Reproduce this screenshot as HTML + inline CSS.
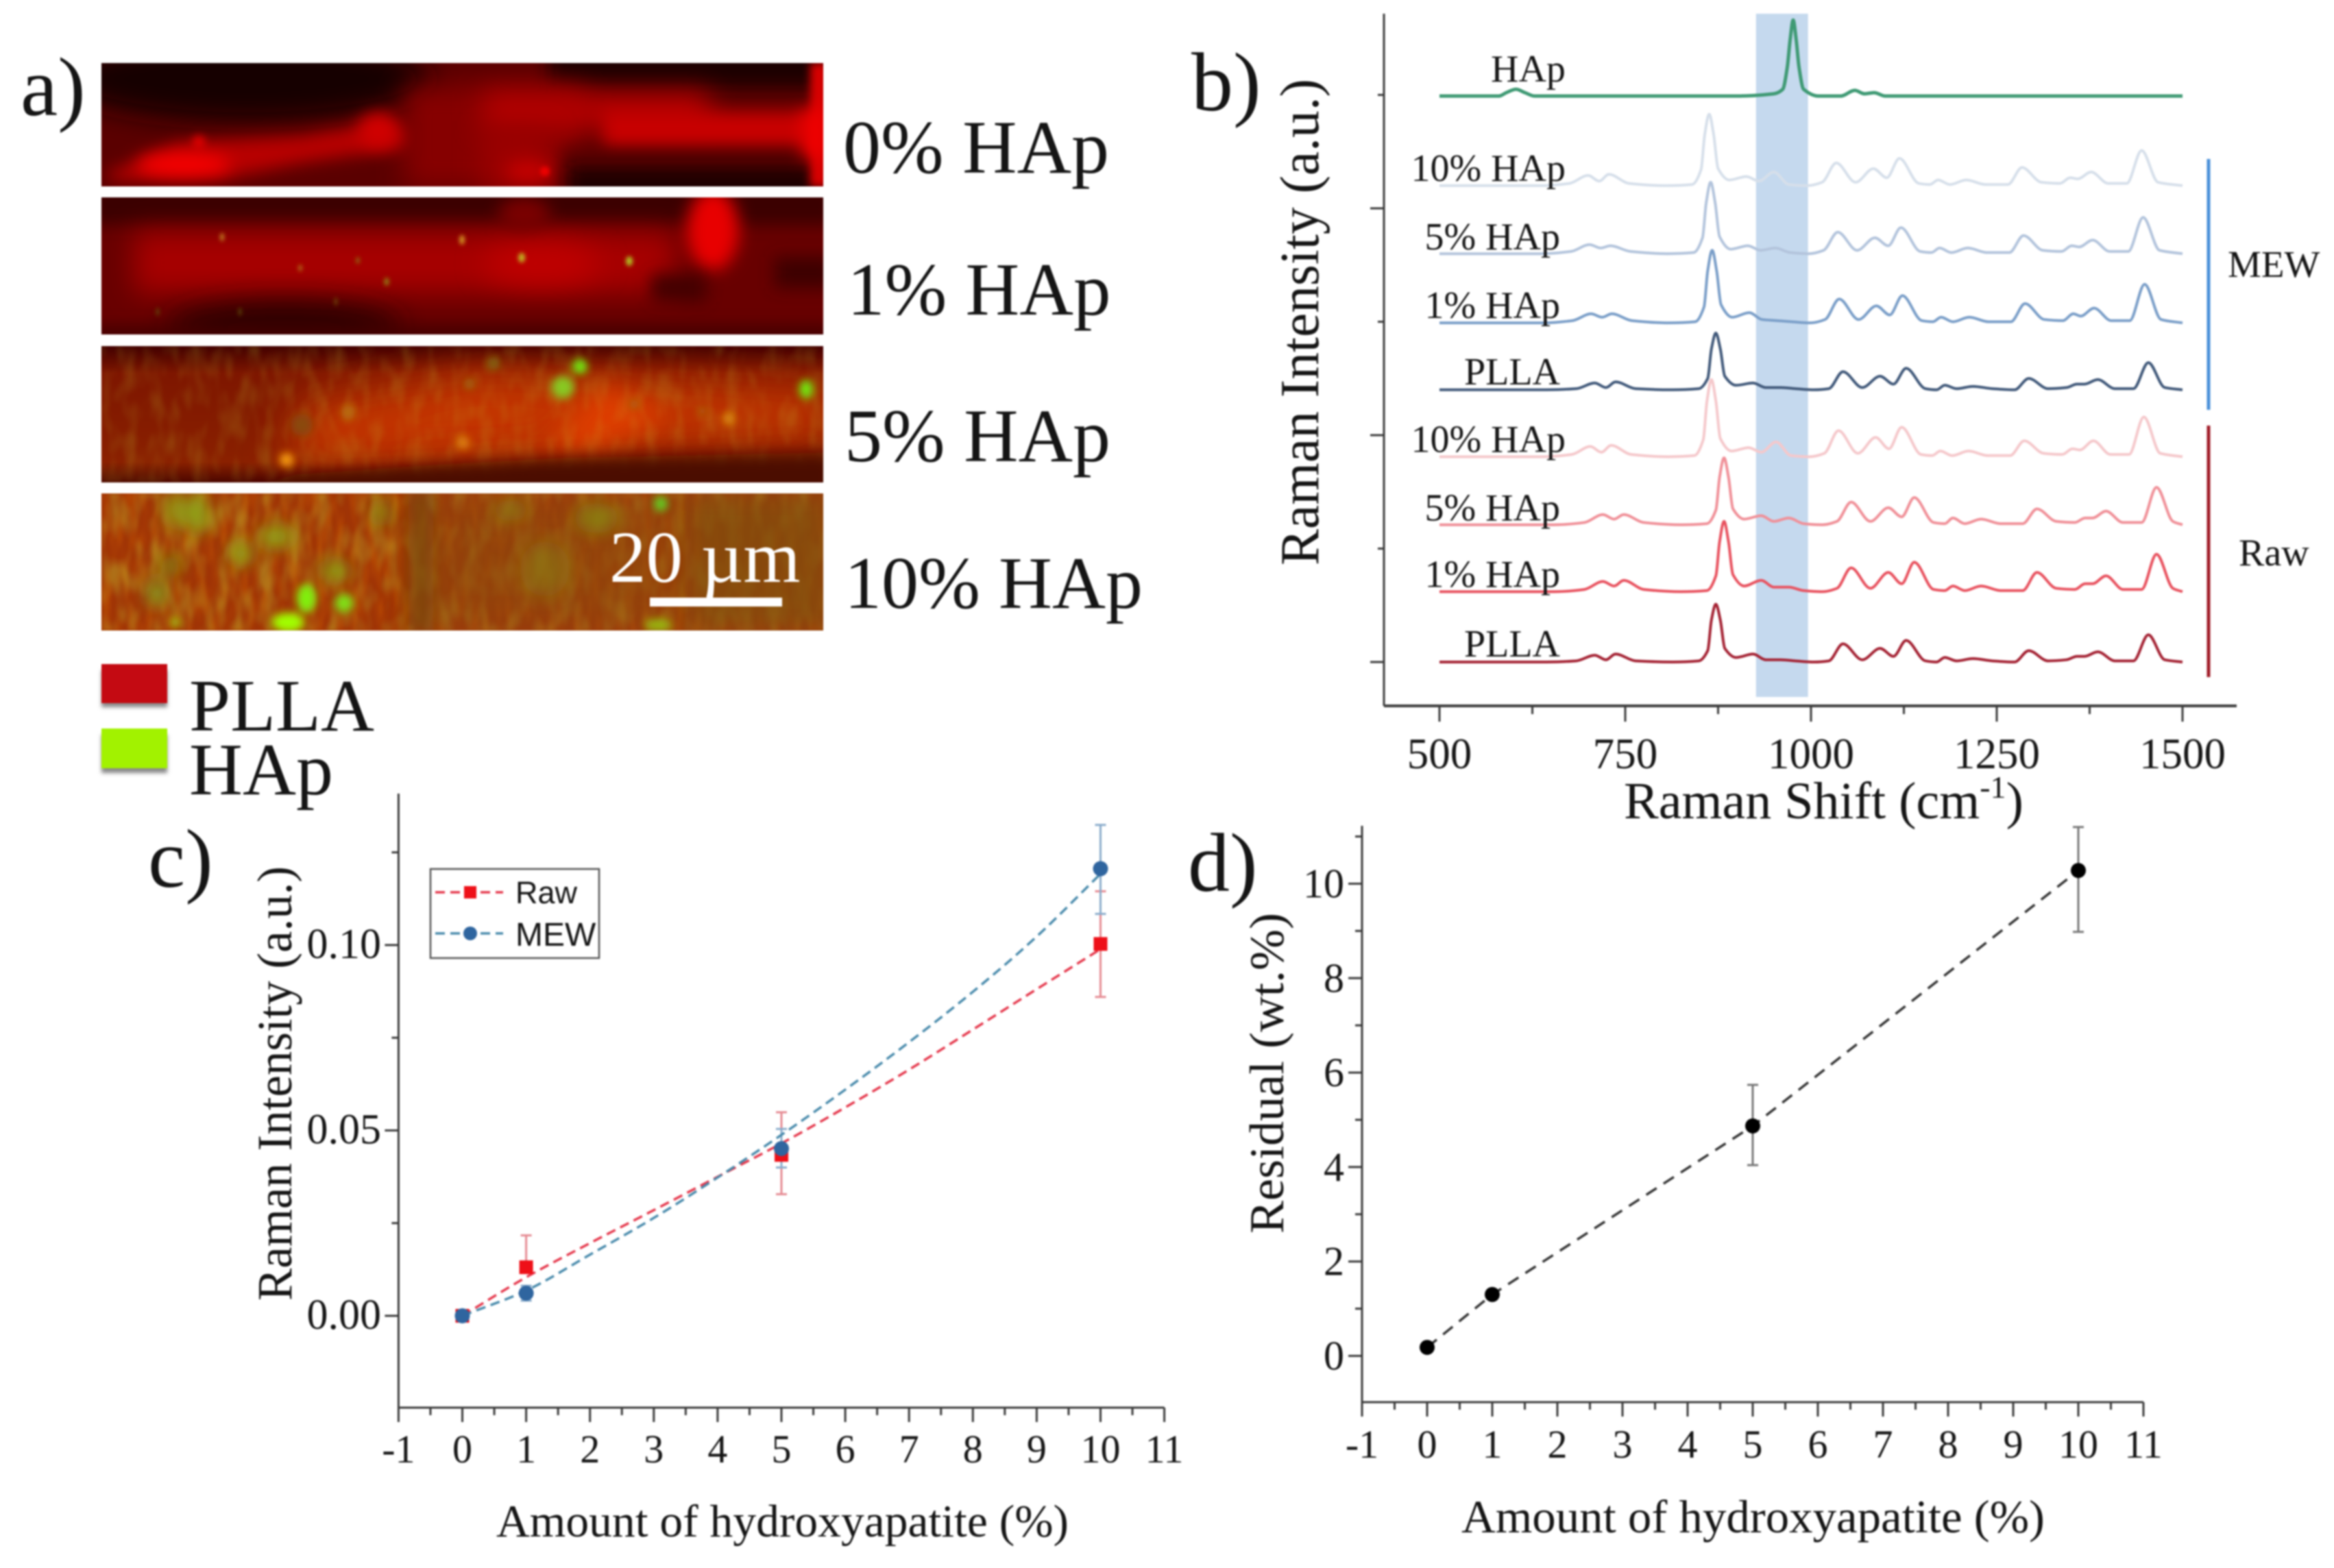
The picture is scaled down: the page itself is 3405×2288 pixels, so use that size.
<!DOCTYPE html>
<html lang="en">
<head>
<meta charset="utf-8">
<title>PLLA and HAp composite figure</title>
<style>
html,body{margin:0;padding:0;background:#fff;width:3405px;height:2288px;overflow:hidden}
#figure{display:block;filter:blur(1.2px)}
text{font-family:"Liberation Serif",serif;fill:#151515}
.sans{font-family:"Liberation Sans",sans-serif}
</style>
</head>
<body>
<svg id="figure" xmlns="http://www.w3.org/2000/svg" width="3405" height="2288" viewBox="0 0 3405 2288">
<defs>
<filter id="b3" filterUnits="userSpaceOnUse" x="100" y="50" width="1150" height="900"><feGaussianBlur stdDeviation="3"/></filter>
<filter id="b6" filterUnits="userSpaceOnUse" x="100" y="50" width="1150" height="900"><feGaussianBlur stdDeviation="6"/></filter>
<filter id="b12" filterUnits="userSpaceOnUse" x="100" y="50" width="1150" height="900"><feGaussianBlur stdDeviation="12"/></filter>
<filter id="b20" filterUnits="userSpaceOnUse" x="100" y="50" width="1150" height="900"><feGaussianBlur stdDeviation="20"/></filter>
<filter id="b32" filterUnits="userSpaceOnUse" x="100" y="50" width="1150" height="900"><feGaussianBlur stdDeviation="32"/></filter>
<filter id="shadow" filterUnits="userSpaceOnUse" x="100" y="950" width="200" height="220"><feGaussianBlur stdDeviation="3"/></filter>
<filter id="noiseG" x="0" y="0" width="100%" height="100%"><feTurbulence type="fractalNoise" baseFrequency="0.05 0.022" numOctaves="2" seed="4"/><feColorMatrix values="0 0 0 0 .55  0 0 0 0 .58  0 0 0 0 .03  2.6 0 0 0 -1.05"/><feGaussianBlur stdDeviation="2.5"/></filter>
<filter id="noiseR" x="0" y="0" width="100%" height="100%"><feTurbulence type="fractalNoise" baseFrequency="0.08 0.02" numOctaves="2" seed="9"/><feColorMatrix values="0 0 0 0 .85  0 0 0 0 .2  0 0 0 0 0  2.4 0 0 0 -1"/><feGaussianBlur stdDeviation="2"/></filter>
<clipPath id="c0"><rect x="148" y="92" width="1053" height="180"/></clipPath>
<clipPath id="c1"><rect x="148" y="288" width="1053" height="200"/></clipPath>
<clipPath id="c2"><rect x="148" y="505" width="1053" height="199"/></clipPath>
<clipPath id="c3"><rect x="148" y="720" width="1053" height="200"/></clipPath>
<linearGradient id="g2" x1="0" y1="0" x2="0" y2="1"><stop offset="0" stop-color="#420000"/><stop offset=".2" stop-color="#7e1600"/><stop offset=".85" stop-color="#8a2000"/><stop offset="1" stop-color="#4c0600"/></linearGradient>
</defs>

<!-- Panel a -->
<g>
<text x="30" y="168" font-size="122">a)</text>

<g clip-path="url(#c0)">
<rect x="148" y="92" width="1053" height="180" fill="#5a0000"/>
<ellipse cx="360" cy="115" rx="270" ry="62" fill="#120000" filter="url(#b20)"/>
<rect x="800" y="60" width="400" height="68" fill="#1a0000" filter="url(#b12)"/>
<rect x="590" y="125" width="260" height="150" fill="#860000" filter="url(#b20)"/>
<polygon points="150,256 260,208 440,198 560,178 590,192 590,216 440,238 320,262 170,264" fill="#b80000" filter="url(#b12)"/>
<ellipse cx="268" cy="240" rx="68" ry="17" fill="#f60000" filter="url(#b12)"/>
<circle cx="290" cy="207" r="9" fill="#e80000" filter="url(#b6)"/>
<ellipse cx="552" cy="190" rx="30" ry="26" fill="#d00000" filter="url(#b12)"/>
<rect x="705" y="134" width="330" height="56" fill="#b40000" filter="url(#b20)"/>
<rect x="880" y="162" width="310" height="62" fill="#c80000" filter="url(#b12)"/>
<rect x="705" y="190" width="97" height="90" fill="#9c0000" filter="url(#b20)"/>
<ellipse cx="772" cy="250" rx="34" ry="14" fill="#c80000" filter="url(#b12)"/>
<circle cx="795" cy="250" r="7" fill="#f00000" filter="url(#b3)"/>
<rect x="820" y="215" width="370" height="80" fill="#580000" filter="url(#b12)"/>
<rect x="830" y="245" width="360" height="50" fill="#1e0000" filter="url(#b12)"/>
<rect x="1182" y="92" width="26" height="180" fill="#d80000" filter="url(#b6)"/>
<rect x="1170" y="160" width="35" height="70" fill="#f00000" filter="url(#b12)"/>
</g>

<g clip-path="url(#c1)">
<rect x="148" y="288" width="1053" height="200" fill="#680000"/>
<rect x="130" y="268" width="1090" height="60" fill="#3a0000" filter="url(#b12)"/>
<rect x="195" y="338" width="790" height="90" fill="#a60000" filter="url(#b20)"/>
<ellipse cx="790" cy="385" rx="85" ry="30" fill="#c00000" filter="url(#b20)"/>
<ellipse cx="765" cy="312" rx="38" ry="24" fill="#7a0000" filter="url(#b12)"/>
<ellipse cx="1040" cy="335" rx="38" ry="60" fill="#e80000" filter="url(#b12)"/>
<rect x="1130" y="375" width="90" height="45" fill="#3c0000" filter="url(#b12)"/>
<rect x="950" y="400" width="80" height="40" fill="#420000" filter="url(#b12)"/>
<ellipse cx="415" cy="478" rx="170" ry="38" fill="#2c0000" filter="url(#b20)"/>
<rect x="130" y="476" width="1090" height="30" fill="#420000" filter="url(#b12)"/>
<g filter="url(#b3)">
<ellipse cx="324" cy="346" rx="3" ry="6" fill="#c08020"/><ellipse cx="674" cy="350" rx="4" ry="7" fill="#d09020"/><ellipse cx="761" cy="376" rx="5" ry="7" fill="#c0b020"/><ellipse cx="918" cy="381" rx="5" ry="7" fill="#b0c020"/><ellipse cx="438" cy="391" rx="3" ry="5" fill="#b06818"/><ellipse cx="564" cy="411" rx="4" ry="6" fill="#907010"/><ellipse cx="522" cy="380" rx="3" ry="5" fill="#906010"/><ellipse cx="490" cy="440" rx="2" ry="6" fill="#705010"/><ellipse cx="350" cy="455" rx="2" ry="6" fill="#605010"/><ellipse cx="230" cy="455" rx="2" ry="6" fill="#605010"/>
</g>
</g>

<g clip-path="url(#c2)">
<rect x="148" y="505" width="1053" height="199" fill="url(#g2)"/>
<polygon points="420,680 440,590 700,540 1220,570 1220,640 1000,650 700,670" fill="#c43400" filter="url(#b32)"/>
<polygon points="520,662 800,650 880,560 980,610 860,660" fill="#e44000" filter="url(#b20)" opacity=".85"/>
<rect x="148" y="505" width="1053" height="199" filter="url(#noiseG)" opacity=".18"/>
<polygon points="433,692 640,678 822,668 1220,660 1220,730 300,730" fill="#4c0800" filter="url(#b12)"/>
<g filter="url(#b6)">
<circle cx="846" cy="535" r="11" fill="#70f010"/><circle cx="821" cy="565" r="17" fill="#88c820"/><ellipse cx="1176" cy="568" rx="10" ry="14" fill="#70f010"/>
<circle cx="1063" cy="611" r="8" fill="#e09a10"/><circle cx="508" cy="602" r="10" fill="#b87010"/><circle cx="676" cy="646" r="9" fill="#e08810"/><circle cx="418" cy="671" r="10" fill="#ffa810"/>
<circle cx="685" cy="560" r="8" fill="#a07010"/><circle cx="720" cy="530" r="9" fill="#806810"/><circle cx="925" cy="590" r="7" fill="#a86810"/><circle cx="1025" cy="600" r="6" fill="#a86810"/><circle cx="440" cy="620" r="16" fill="#8a4a08"/>
</g>
</g>

<g clip-path="url(#c3)">
<rect x="148" y="720" width="1053" height="200" fill="#a03406"/>
<rect x="148" y="720" width="1053" height="200" filter="url(#noiseR)" opacity=".3"/>
<rect x="148" y="720" width="1053" height="200" filter="url(#noiseG)" opacity=".4"/>
<rect x="620" y="715" width="380" height="210" fill="#8c4a0a" filter="url(#b32)" opacity=".65"/>
<rect x="1000" y="715" width="220" height="210" fill="#824e0a" filter="url(#b20)" opacity=".8"/>
<rect x="596" y="715" width="36" height="210" fill="#7a4a08" filter="url(#b12)" opacity=".8"/>
<g filter="url(#b12)">
<ellipse cx="287" cy="750" rx="20" ry="30" fill="#90a018"/><ellipse cx="253" cy="743" rx="12" ry="28" fill="#90a018"/><ellipse cx="403" cy="783" rx="26" ry="18" fill="#90a018"/><ellipse cx="351" cy="808" rx="18" ry="18" fill="#90a018"/><ellipse cx="249" cy="825" rx="15" ry="14" fill="#80900f"/>
<ellipse cx="488" cy="833" rx="22" ry="15" fill="#8aa018"/><ellipse cx="229" cy="866" rx="15" ry="20" fill="#80a020"/><ellipse cx="556" cy="748" rx="10" ry="20" fill="#80a018"/>
<ellipse cx="795" cy="830" rx="36" ry="40" fill="#8a7c10" opacity=".6"/><ellipse cx="870" cy="756" rx="32" ry="22" fill="#8a8410" opacity=".8"/><ellipse cx="745" cy="745" rx="25" ry="15" fill="#8a8410" opacity=".7"/>
</g>
<g filter="url(#b6)">
<ellipse cx="447" cy="873" rx="14" ry="21" fill="#80f010"/><ellipse cx="502" cy="880" rx="14" ry="14" fill="#80e018"/><ellipse cx="420" cy="908" rx="24" ry="14" fill="#a0ff00"/><ellipse cx="256" cy="908" rx="6" ry="7" fill="#a0e010"/>
<ellipse cx="964" cy="735" rx="10" ry="11" fill="#60d020"/><ellipse cx="960" cy="912" rx="20" ry="9" fill="#98b810"/>
</g>
</g>

<text x="1230" y="252" font-size="110">0% HAp</text>
<text x="1236" y="459" font-size="109">1% HAp</text>
<text x="1232" y="673" font-size="110">5% HAp</text>
<text x="1232" y="887" font-size="108">10% HAp</text>

<text x="889" y="849" font-size="107" style="fill:#fff">20 µm</text>
<rect x="948" y="872" width="193" height="13" fill="#fff"/>

<g>
<rect x="148" y="978" width="96" height="54" fill="#888" filter="url(#shadow)"/>
<rect x="148" y="969" width="96" height="57" fill="#c40a12"/>
<text x="276" y="1066" font-size="108">PLLA</text>
</g>
<g>
<rect x="148" y="1072" width="96" height="56" fill="#888" filter="url(#shadow)"/>
<rect x="148" y="1063" width="96" height="58" fill="#a2f200"/>
<text x="276" y="1159" font-size="108">HAp</text>
</g>
</g>

<!-- Panel b -->
<g id="panelB">
<text x="1738" y="161" font-size="122">b)</text>
<text transform="translate(1923 825) rotate(-90)" font-size="80" textLength="710" lengthAdjust="spacingAndGlyphs">Raman Intensity (a.u.)</text>
<text x="2369" y="1194" font-size="76">Raman Shift (cm<tspan font-size="46" dy="-30">-1</tspan><tspan dy="30">)</tspan></text>
<text x="3250" y="404" font-size="55">MEW</text>
<text x="3266" y="825" font-size="56">Raw</text>
<line x1="3222" y1="232" x2="3222" y2="598" stroke="#4a90d9" stroke-width="5"/>
<line x1="3222" y1="621" x2="3222" y2="988" stroke="#a01c28" stroke-width="5"/>
</g>

<!-- Panel c -->
<g id="panelC">
<text x="216" y="1294" font-size="122">c)</text>
<text transform="translate(425 1898) rotate(-90)" font-size="72" textLength="634" lengthAdjust="spacingAndGlyphs">Raman Intensity (a.u.)</text>
<text x="724" y="2242" font-size="67" textLength="835" lengthAdjust="spacingAndGlyphs">Amount of hydroxyapatite (%)</text>
</g>

<!-- Panel d -->
<g id="panelD">
<text x="1733" y="1300" font-size="122">d)</text>
<text transform="translate(1872 1800) rotate(-90)" font-size="71" textLength="468" lengthAdjust="spacingAndGlyphs">Residual (wt.%)</text>
<text x="2132" y="2236" font-size="68" textLength="851" lengthAdjust="spacingAndGlyphs">Amount of hydroxyapatite (%)</text>
</g>
</svg>

<script>
// ---------- Panel b data ----------
const shifts = [500,640,680,705,720,733,760,810,845,857,862,868,874,880,895,918,935,955,975,1000,1020,1039,1065,1089,1107,1124,1150,1165,1176,1192,1214,1240,1270,1289,1315,1340,1354,1364,1382,1405,1430,1450,1472,1500];
const mew10 = [0,0,2,9,4,10,2,0,1,14,45,63,45,15,5,8,4,12,1,0,3,20,3,15,7,24,2,1,5,1,5,1,1,16,3,2,7,6,12,2,2,31,3,0];
const mew5 = [0,0,2,8,5,7,2,0,1,14,45,63,45,15,4,7,3,5,1,0,3,19,3,14,7,23,2,1,5,1,5,1,1,16,3,2,7,6,12,2,2,32,3,0];
const mew1 = [0,0,2,8,5,8,2,0,1,14,46,64,46,16,5,9,3,2,1,0,3,21,3,15,7,24,2,1,5,1,5,1,1,17,3,2,8,6,13,2,2,34,3,0];
const mewPlla = [0,0,1,6,2,7,1,0,1,10,36,50,36,12,4,6,2,2,1,0,1,16,2,12,5,19,1,0,4,1,3,1,0,10,1,2,5,5,9,1,1,24,2,0];
const raw10 = [0,0,2,9,4,10,2,0,1,15,49,68,49,16,5,8,4,13,1,0,3,23,3,17,7,26,2,1,5,1,5,1,1,14,3,2,7,6,14,2,2,35,3,0];
const raw5 = [0,0,2,9,5,9,2,0,1,13,42,59,42,14,5,8,3,6,1,0,3,20,3,15,7,24,2,1,6,1,5,1,1,14,3,2,6,6,12,2,2,33,3,0];
const raw1 = [0,0,2,9,5,10,2,0,1,14,44,62,44,15,5,10,4,4,1,0,3,21,3,17,7,26,2,1,5,1,5,1,1,17,3,2,7,7,14,2,2,33,3,0];
const rawPlla = [0,0,1,6,2,7,1,0,1,10,37,51,37,12,4,7,2,2,1,0,1,16,2,12,5,19,1,0,4,1,3,1,0,10,1,2,5,5,9,1,1,24,2,0];
const hapShifts = [500,580,590,603,615,628,700,900,950,962,968,972,976,980,984,990,1010,1040,1059,1072,1085,1100,1500];
const hapValues = [0,0,3,6,3,0,0,0,2,6,25,50,67,50,25,6,0,0,5,2,3,0,0];
const spectraNames = ['mew-10','mew-5','mew-1','mew-plla','raw-10','raw-5','raw-1','raw-plla'];
const spectraValues = [mew10,mew5,mew1,mewPlla,raw10,raw5,raw1,rawPlla];
const spectraStack = [420,360,299,240,181,121,62,0];
const spectraPeakShift = [-5,-3,-1,4,-2,15,15,4];
const spectraLabels = ['10% HAp','5% HAp','1% HAp','PLLA','10% HAp','5% HAp','1% HAp','PLLA'];
const hapStack = 499;
const highlightRange = [926,996];
const bXMajor = [500,750,1000,1250,1500];
const bXMinor = [625,875,1125,1375];
const bYTicks = [0,100,200,300,400,500];

// ---------- Panel c data ----------
const cCategories = [0,1,5,10];
const rawValues = [0,0.0131,0.0434,0.1003];
const rawErrUp = [0,0.0086,0.0115,0.0142];
const rawErrDown = [0,0,0.0106,0.0143];
const mewValues = [0,0.0061,0.0451,0.1206];
const mewErrUp = [0,0.002,0.0053,0.0118];
const mewErrDown = [0,0.002,0.0051,0.0122];
const fitX = [0,1,2,3,4,5,6,7,8,9,10];
const rawFit = [0,0.0104,0.0196,0.0285,0.0375,0.0465,0.0562,0.0664,0.0772,0.0881,0.0989];
const mewFit = [0,0.0068,0.0165,0.0264,0.0373,0.0488,0.061,0.0738,0.0874,0.1023,0.1192];
const cXTicks = [-1,0,1,2,3,4,5,6,7,8,9,10,11];
const cYMajor = [0,0.05,0.1];
const cYMinor = [0.025,0.075,0.125];
const cYLabels = ['0.00','0.05','0.10'];

// ---------- Panel d data ----------
const dCategories = [0,1,5,10];
const residualValues = [0.18,1.3,4.87,10.28];
const residualErrUp = [0,0,0.87,0.92];
const residualErrDown = [0,0,0.83,1.3];
const dXTicks = [-1,0,1,2,3,4,5,6,7,8,9,10,11];
const dYMajor = [0,2,4,6,8,10];
const dYMinor = [1,3,5,7,9,11];

// ---------- Axis functions ----------
const bX = v => 2100 + (v - 500) * 1.084;
const bY = v => 966 - v * 1.655;
const cX = v => 674.5 + v * 93.1;
const cY = v => 1920 - v * 5410;
const dX = v => 2082 + v * 95;
const dY = v => 1978.5 - v * 68.9;

const NS = 'http://www.w3.org/2000/svg';
function make(parent, tag, attrs, txt) {
  const n = document.createElementNS(NS, tag);
  for (const k in attrs) n.setAttribute(k, attrs[k]);
  if (txt !== undefined) n.textContent = txt;
  parent.appendChild(n);
  return n;
}
// Monotone cubic path through mapped points (no overshoot above read values).
function smoothPath(px, py) {
  const n = px.length, sec = [], m = [];
  for (let i = 0; i < n - 1; i++) sec.push((py[i + 1] - py[i]) / (px[i + 1] - px[i]));
  m[0] = sec[0];
  m[n - 1] = sec[n - 2];
  for (let i = 1; i < n - 1; i++) {
    m[i] = sec[i - 1] * sec[i] <= 0 ? 0 : 2 * sec[i - 1] * sec[i] / (sec[i - 1] + sec[i]);
  }
  let d = 'M' + px[0] + ' ' + py[0];
  for (let i = 0; i < n - 1; i++) {
    const h = (px[i + 1] - px[i]) / 3;
    d += 'C' + (px[i] + h) + ' ' + (py[i] + m[i] * h) + ' ' + (px[i + 1] - h) + ' ' + (py[i + 1] - m[i + 1] * h) + ' ' + px[i + 1] + ' ' + py[i + 1];
  }
  return d;
}
const panelB = document.getElementById('panelB');
const panelC = document.getElementById('panelC');
const panelD = document.getElementById('panelD');
const AXIS = '#3a3a3a';

// ---------- Panel b drawing ----------
(function () {
  const band = make(panelB, 'rect', {x: bX(highlightRange[0]), y: 20, width: bX(highlightRange[1]) - bX(highlightRange[0]), height: 997, fill: '#c5d9ee'});
  
  

  const yAxis = make(panelB, 'line', {x1: 2019, y1: 20, x2: 2019, y2: 1030, stroke: AXIS, 'stroke-width': 3});
  
  
  const xAxis = make(panelB, 'line', {x1: 2019, y1: 1030, x2: 3263, y2: 1030, stroke: AXIS, 'stroke-width': 4});
  
  

  bYTicks.forEach((v, i) => {
    const t = make(panelB, 'line', {x1: 2019, x2: i % 2 ? 2010 : 1999, y1: bY(v), y2: bY(v), stroke: AXIS, 'stroke-width': 3});
    
    
  });
  bXMajor.forEach(v => {
    const t = make(panelB, 'line', {x1: bX(v), x2: bX(v), y1: 1030, y2: 1053, stroke: AXIS, 'stroke-width': 3});
    
    
    const l = make(panelB, 'text', {x: bX(v), y: 1121, 'font-size': 63, 'text-anchor': 'middle'}, String(v));
    
    
  });
  bXMinor.forEach(v => {
    const t = make(panelB, 'line', {x1: bX(v), x2: bX(v), y1: 1030, y2: 1042, stroke: AXIS, 'stroke-width': 3});
    
    
  });

  const hapLine = make(panelB, 'path', {d: smoothPath(hapShifts.map(s => bX(s)), hapValues.map(v => bY(hapStack + v))), fill: 'none', stroke: '#3f9a74', 'stroke-width': 5, 'stroke-linejoin': 'round'});
  
  

  const colors = ['#d6dfea','#b3c4dc','#7a9ec8','#41597a','#f5c8cb','#f09098','#e8525f','#a42233'];
  spectraValues.forEach((vals, i) => {
    const last = shifts.length - 1;
    const px = shifts.map((s, j) => bX(j === 0 || j === last ? s : s + spectraPeakShift[i]));
    const py = vals.map(v => bY(spectraStack[i] + v));
    const line = make(panelB, 'path', {d: smoothPath(px, py), fill: 'none', stroke: colors[i], 'stroke-width': 4, 'stroke-linejoin': 'round'});
    
    
  });

  const hapLabel = make(panelB, 'text', {x: 2175, y: 119, 'font-size': 56}, 'HAp');
  
  
  const labelRight = [2284,2276,2276,2276];
  const labelOffset = [-7,-6,-7,-8];
  spectraLabels.forEach((txt, i) => {
    const base = bY(spectraStack[i]) + labelOffset[i % 4];
    const l = make(panelB, 'text', {x: labelRight[i % 4], y: base, 'font-size': 56, 'text-anchor': 'end'}, txt);
    
    
  });
})();

// ---------- Shared drawing for c / d ----------
function dashed(parent, xs, ys, sx, sy, color, width, dash, name, straight) {
  const pxs = xs.map(sx), pys = ys.map(sy);
  const d = straight ? 'M' + pxs.map((p, i) => p + ' ' + pys[i]).join('L') : smoothPath(pxs, pys);
  const l = make(parent, 'path', {d: d, fill: 'none', stroke: color, 'stroke-width': width, 'stroke-dasharray': dash});
  
  
}
function errorBar(parent, x, y, up, down, sx, sy, color, name) {
  const g = make(parent, 'g', {stroke: color, 'stroke-width': 3, fill: 'none'});
  
  
  const px = sx(x), top = sy(y + up), bot = sy(y - down);
  make(g, 'line', {x1: px, x2: px, y1: top, y2: bot});
  if (up > 0) make(g, 'line', {x1: px - 8, x2: px + 8, y1: top, y2: top});
  if (down > 0) make(g, 'line', {x1: px - 8, x2: px + 8, y1: bot, y2: bot});
}

// ---------- Panel c drawing ----------
(function () {
  const yAxis = make(panelC, 'line', {x1: cX(-1), y1: 1158, x2: cX(-1), y2: 2054, stroke: AXIS, 'stroke-width': 3});
  
  
  const xAxis = make(panelC, 'line', {x1: cX(-1), y1: 2054, x2: cX(11), y2: 2054, stroke: AXIS, 'stroke-width': 3});
  
  

  cXTicks.forEach(v => {
    const t = make(panelC, 'line', {x1: cX(v), x2: cX(v), y1: 2054, y2: 2075, stroke: AXIS, 'stroke-width': 3});
    
    
    if (v < 11) {
      const m = make(panelC, 'line', {x1: cX(v + 0.5), x2: cX(v + 0.5), y1: 2054, y2: 2065, stroke: AXIS, 'stroke-width': 3});
      
      
    }
    const l = make(panelC, 'text', {x: cX(v), y: 2134, 'font-size': 58, 'text-anchor': 'middle'}, String(v));
    
    
  });
  cYMajor.forEach((v, i) => {
    const t = make(panelC, 'line', {x1: cX(-1), x2: cX(-1) - 20, y1: cY(v), y2: cY(v), stroke: AXIS, 'stroke-width': 3});
    
    
    const l = make(panelC, 'text', {x: 556, y: cY(v) + 19, 'font-size': 62, 'text-anchor': 'end'}, cYLabels[i]);
    
    
  });
  cYMinor.forEach(v => {
    const t = make(panelC, 'line', {x1: cX(-1), x2: cX(-1) - 10, y1: cY(v), y2: cY(v), stroke: AXIS, 'stroke-width': 3});
    
    
  });

  cCategories.forEach((x, i) => {
    errorBar(panelC, x, rawValues[i], rawErrUp[i], rawErrDown[i], cX, cY, '#e58a92', 'raw-error-bar');
    errorBar(panelC, x, mewValues[i], mewErrUp[i], mewErrDown[i], cX, cY, '#8aaccb', 'mew-error-bar');
  });
  dashed(panelC, fitX, rawFit, cX, cY, '#e53a4e', 3.5, '14 8', 'raw-fit-line', false);
  dashed(panelC, fitX, mewFit, cX, cY, '#4a8bac', 3.5, '14 8', 'mew-fit-line', false);

  cCategories.forEach((x, i) => {
    const r = make(panelC, 'rect', {x: cX(x) - 10, y: cY(rawValues[i]) - 10, width: 20, height: 20, fill: '#ee1018'});
    
    
  });
  cCategories.forEach((x, i) => {
    const c = make(panelC, 'circle', {cx: cX(x), cy: cY(mewValues[i]), r: 11, fill: '#2f659f'});
    
    
  });

  const legend = make(panelC, 'g', {});
  
  
  make(legend, 'rect', {x: 628, y: 1268, width: 246, height: 130, fill: '#fff', stroke: '#555', 'stroke-width': 2.5});
  make(legend, 'line', {x1: 635, x2: 734, y1: 1302, y2: 1302, stroke: '#e53a4e', 'stroke-width': 3.5, 'stroke-dasharray': '14 8'});
  make(legend, 'rect', {x: 677, y: 1293, width: 18, height: 18, fill: '#ee1018'});
  const rawText = make(legend, 'text', {x: 752, y: 1318, 'font-size': 45, class: 'sans'}, 'Raw');
  
  
  make(legend, 'line', {x1: 635, x2: 734, y1: 1362, y2: 1362, stroke: '#4a8bac', 'stroke-width': 3.5, 'stroke-dasharray': '14 8'});
  make(legend, 'circle', {cx: 686, cy: 1362, r: 10, fill: '#2f659f'});
  const mewText = make(legend, 'text', {x: 752, y: 1380, 'font-size': 48, class: 'sans'}, 'MEW');
  
  
})();

// ---------- Panel d drawing ----------
(function () {
  const yAxis = make(panelD, 'line', {x1: dX(-1), y1: 1205, x2: dX(-1), y2: 2046, stroke: AXIS, 'stroke-width': 3});
  
  
  const xAxis = make(panelD, 'line', {x1: dX(-1), y1: 2046, x2: dX(11), y2: 2046, stroke: AXIS, 'stroke-width': 3});
  
  

  dXTicks.forEach(v => {
    const t = make(panelD, 'line', {x1: dX(v), x2: dX(v), y1: 2046, y2: 2067, stroke: AXIS, 'stroke-width': 3});
    
    
    if (v < 11) {
      const m = make(panelD, 'line', {x1: dX(v + 0.5), x2: dX(v + 0.5), y1: 2046, y2: 2057, stroke: AXIS, 'stroke-width': 3});
      
      
    }
    const l = make(panelD, 'text', {x: dX(v), y: 2127, 'font-size': 58, 'text-anchor': 'middle'}, String(v));
    
    
  });
  dYMajor.forEach(v => {
    const t = make(panelD, 'line', {x1: dX(-1), x2: dX(-1) - 20, y1: dY(v), y2: dY(v), stroke: AXIS, 'stroke-width': 3});
    
    
    const l = make(panelD, 'text', {x: 1961, y: dY(v) + 20, 'font-size': 60, 'text-anchor': 'end'}, String(v));
    
    
  });
  dYMinor.forEach(v => {
    const t = make(panelD, 'line', {x1: dX(-1), x2: dX(-1) - 10, y1: dY(v), y2: dY(v), stroke: AXIS, 'stroke-width': 3});
    
    
  });

  dashed(panelD, dCategories, residualValues, dX, dY, '#333', 3.5, '18 12', 'residual-fit-line', true);
  dCategories.forEach((x, i) => {
    if (residualErrUp[i] || residualErrDown[i]) {
      errorBar(panelD, x, residualValues[i], residualErrUp[i], residualErrDown[i], dX, dY, '#777', 'residual-error-bar');
    }
    const c = make(panelD, 'circle', {cx: dX(x), cy: dY(residualValues[i]), r: 11, fill: '#000'});
    
    
  });
})();
</script>
</body>
</html>
